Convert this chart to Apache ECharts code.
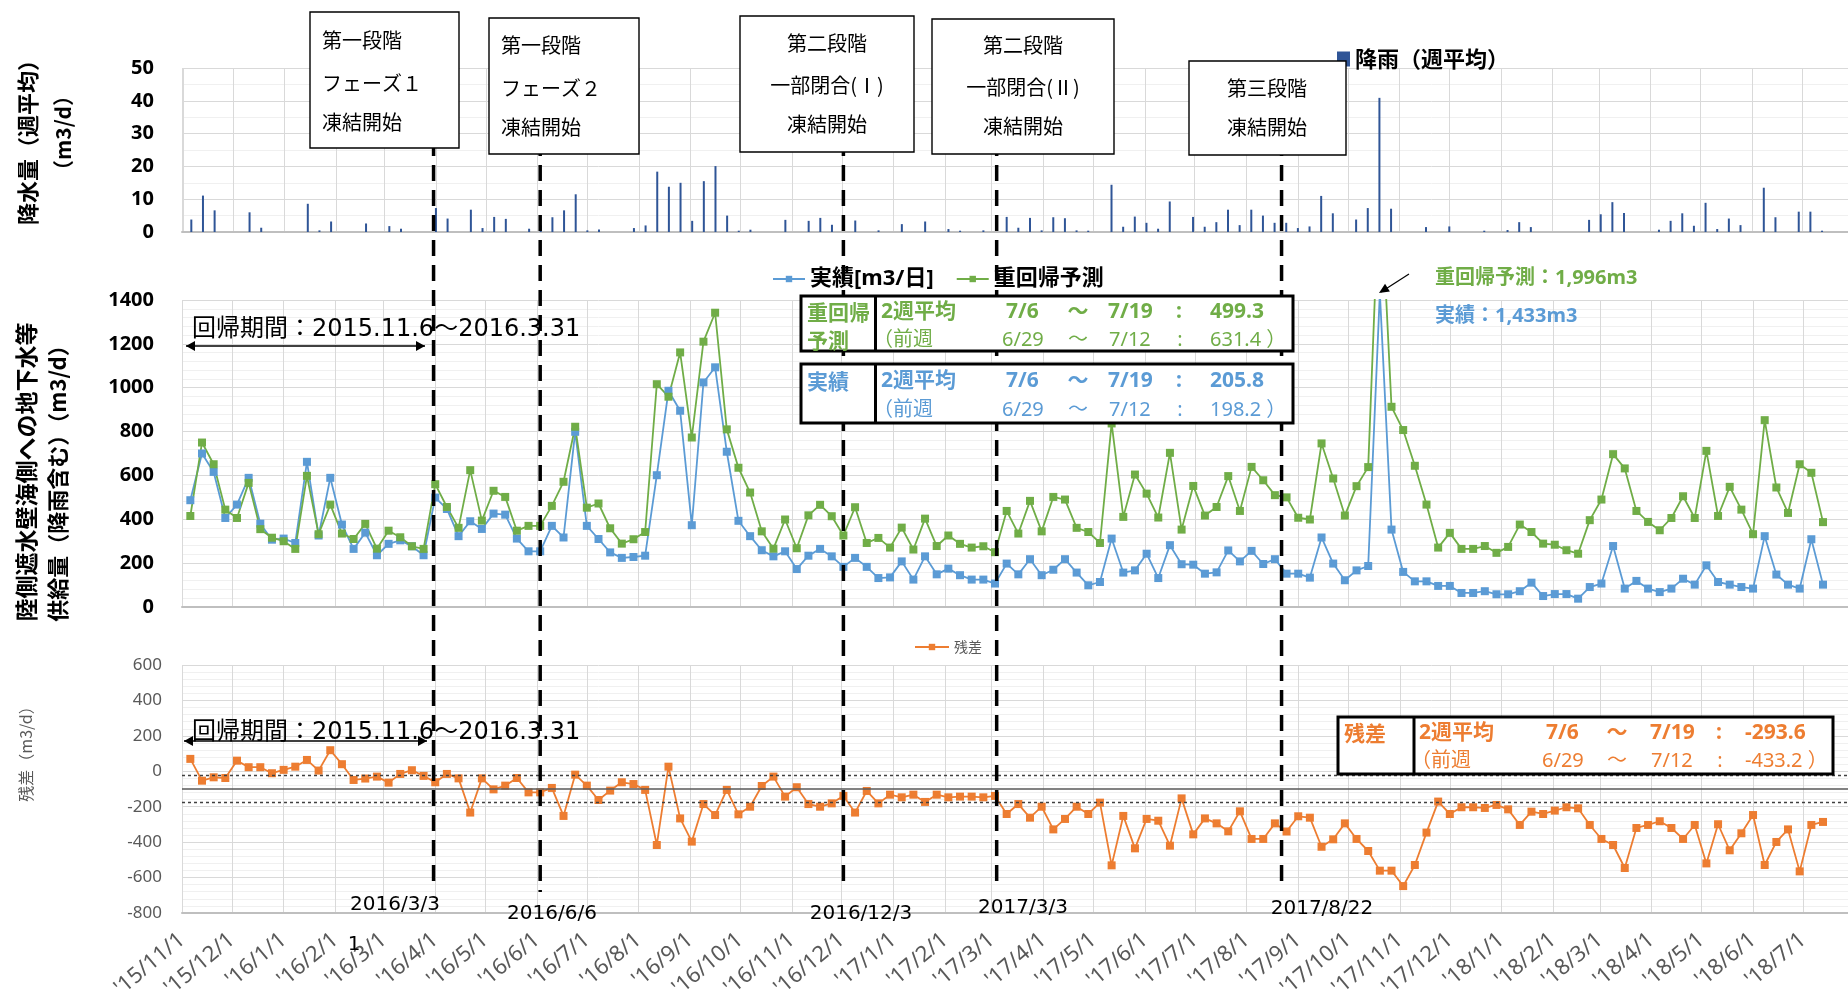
<!DOCTYPE html>
<html>
<head>
<meta charset="utf-8">
<script src="https://cdn.jsdelivr.net/npm/echarts@6/dist/echarts.min.js"></script>
<style>
html, body { margin: 0; padding: 0; background: #fff; }
#chart { width: 1848px; height: 1003px; }
</style>
</head>
<body>
<div id="chart"></div>
<script>
// weekly values, first week starts 2015-11-06
const rainfall = [
  3.8, 11.1, 6.6, 0, 0, 6.0, 1.3, 0, 0, 0,
  8.6, 0.5, 3.2, 0, 0, 2.6, 0, 1.8, 1.0, 0,
  0, 7.3, 4.1, 0, 6.8, 1.2, 4.6, 4.0, 0, 1.0,
  2.0, 4.5, 6.6, 11.5, 0.5, 0.8, 0, 0, 1.2, 2.0,
  18.4, 13.8, 15.0, 3.4, 15.5, 20.1, 5.0, 0.4, 0.7, 0,
  0, 3.7, 0, 3.4, 4.3, 2.2, 0, 3.5, 0, 0.5,
  0, 2.4, 0, 3.2, 0, 0.9, 0.4, 0, 0.5, 0,
  4.6, 1.3, 4.3, 0.5, 4.5, 4.2, 0.5, 0.4, 0, 14.4,
  1.6, 4.7, 2.8, 1.0, 9.3, 0, 4.6, 1.6, 3.0, 6.8,
  2.1, 6.8, 5.0, 2.8, 2.8, 1.2, 1.7, 11.0, 5.7, 0,
  3.8, 7.3, 40.9, 7.1, 0, 0, 1.5, 0, 1.7, 0,
  0, 0.4, 0, 0.6, 3.0, 1.5, 0, 0, 0, 0,
  3.7, 5.4, 9.1, 5.8, 0, 0, 0.7, 3.4, 5.7, 1.9,
  8.9, 0.9, 4.1, 2.1, 0, 13.5, 4.5, 0, 6.2, 6.2,
  0.4
];
const actual = [
  487, 700, 616, 406, 467, 589, 380, 307, 312, 292,
  662, 326, 589, 376, 265, 339, 236, 288, 304, 277,
  236, 499, 447, 323, 391, 356, 426, 421, 312, 254,
  254, 370, 317, 799, 370, 310, 249, 224, 228, 234,
  601, 986, 895, 373, 1024, 1093, 708, 393, 323, 259,
  231, 254, 173, 234, 265, 231, 183, 224, 183, 132,
  135, 208, 125, 231, 149, 175, 145, 125, 125, 107,
  198, 149, 218, 145, 170, 218, 157, 99, 114, 312,
  157, 167, 243, 132, 282, 195, 193, 152, 158, 258,
  208, 256, 196, 218, 152, 152, 134, 317, 198, 122,
  167, 187, 1433, 353, 160, 117, 117, 96, 96, 64,
  64, 72, 58, 58, 72, 111, 50, 59, 59, 38,
  91, 107, 278, 84, 119, 84, 68, 84, 129, 102,
  190, 114, 102, 91, 84, 323, 148, 102, 84, 309,
  102
];
const predicted = [
  415, 750, 651, 444, 406, 566, 355, 316, 300, 265,
  598, 332, 467, 335, 310, 379, 266, 348, 318, 277,
  265, 560, 456, 361, 624, 394, 530, 502, 348, 370,
  370, 461, 571, 822, 453, 472, 359, 289, 309, 342,
  1016, 959, 1161, 773, 1210, 1342, 810, 635, 522, 345,
  266, 399, 268, 418, 466, 414, 326, 455, 292, 315,
  271, 362, 262, 403, 278, 326, 288, 271, 277, 250,
  438, 335, 484, 345, 502, 490, 361, 342, 292, 837,
  411, 604, 517, 408, 703, 353, 552, 417, 456, 597,
  438, 639, 578, 510, 500, 407, 399, 746, 586, 417,
  551, 638, 1996, 913, 807, 644, 467, 271, 338, 265,
  265, 278, 247, 274, 376, 342, 289, 284, 259, 243,
  396, 490, 697, 632, 438, 388, 350, 406, 505, 406,
  712, 415, 548, 444, 332, 852, 545, 429, 651, 612,
  387
];
const residual = [
  70, -53, -34, -38, 60, 23, 23, -11, 8, 26,
  64, 4, 119, 40, -49, -41, -30, -64, -15, 6,
  -26, -62, -15, -40, -233, -40, -102, -81, -38, -119,
  -119, -94, -252, -19, -81, -162, -109, -62, -72, -105,
  -416, 26, -266, -397, -185, -247, -105, -243, -200, -83,
  -30, -143, -90, -185, -200, -181, -139, -233, -111, -181,
  -132, -147, -132, -173, -132, -147, -143, -143, -147, -139,
  -241, -185, -262, -200, -328, -269, -200, -241, -177, -531,
  -252, -435, -269, -279, -420, -153, -356, -266, -294, -339,
  -226, -382, -382, -294, -340, -254, -262, -426, -384, -294,
  -382, -450, -561, -561, -648, -529, -346, -171, -241, -203,
  -203, -207, -190, -215, -303, -228, -241, -222, -203, -209,
  -303, -382, -416, -546, -320, -303, -282, -320, -382, -303,
  -520, -299, -446, -350, -247, -529, -399, -328, -565, -303,
  -286
];
// residual reference lines
const residualRefs = [-100, -20, -175];

// freezing stage start markers
const stageDates = ['2016-03-31', '2016-06-03', '2016-12-02', '2017-03-04', '2017-08-22'];
const stageDateLabels = ['2016/3/3', '2016/6/6', '2016/12/3', '2017/3/3', '2017/8/22'];
const stageBoxTexts = [
  ['第一段階', 'フェーズ１', '凍結開始'],
  ['第一段階', 'フェーズ２', '凍結開始'],
  ['第二段階', '一部閉合(Ⅰ)', '凍結開始'],
  ['第二段階', '一部閉合(Ⅱ)', '凍結開始'],
  ['第三段階', '凍結開始']
];

const GREEN = '#70AD47', BLUE = '#5B9BD5', ORANGE = '#ED7D31', RAIN = '#2F5597';
const JP = '"Noto Sans CJK JP"';
const MIX = '"Noto Sans", "Noto Sans CJK JP"';
const WIDE = '"DejaVu Sans", "Noto Sans CJK JP"';

const day = s => { const p = s.split('-').map(Number); return new Date(p[0], p[1] - 1, p[2]).getTime(); };
const weekDates = rainfall.map((_, i) => new Date(2015, 10, 6 + 7 * i).getTime());
const pairs = arr => weekDates.map((t, i) => [t, arr[i]]);

const DAYMS = 86400000;
function xAxis(gridIndex, showLabel) {
  return {
    type: 'time', gridIndex,
    min: day('2015-11-01'), max: day('2018-07-28'),
    splitNumber: 33, minInterval: 28 * DAYMS, maxInterval: 31 * DAYMS,
    axisLine: { onZero: false, lineStyle: { color: '#BFBFBF', width: 2 } },
    axisTick: { show: false },
    splitLine: { show: true, lineStyle: { color: '#D9D9D9', width: 1 } },
    axisLabel: showLabel ? {
      rotate: 40, margin: 24, fontSize: 22, color: '#595959', fontFamily: MIX,
      formatter: v => {
        const d = new Date(v);
        return "'" + String(d.getFullYear()).slice(2) + '/' + (d.getMonth() + 1) + '/' + d.getDate();
      }
    } : { show: false }
  };
}
function yAxis(gridIndex, min, max, interval, minorSplit, bold) {
  return {
    type: 'value', gridIndex, min, max, interval,
    axisLine: { show: false }, axisTick: { show: false },
    axisLabel: Object.assign({ formatter: v => String(v) }, bold
      ? { fontSize: 20, fontWeight: 'bold', color: '#000', margin: 28, fontFamily: '"Noto Sans"' }
      : { fontSize: 17, color: '#595959', margin: 20, fontFamily: '"Noto Sans"' }),
    splitLine: { lineStyle: { color: '#D9D9D9', width: 1 } },
    minorTick: { show: false, splitNumber: minorSplit },
    minorSplitLine: { show: true, lineStyle: { color: '#F0F0F0', width: 1 } }
  };
}

const chart = echarts.init(document.getElementById('chart'));
chart.setOption({
  animation: false,
  textStyle: { fontFamily: MIX },
  grid: [
    { left: 182, right: 0, top: 68, height: 164 },
    { left: 182, right: 0, top: 300, height: 307 },
    { left: 182, right: 0, top: 665, height: 248 }
  ],
  xAxis: [xAxis(0, false), xAxis(1, false), xAxis(2, true)],
  yAxis: [
    yAxis(0, 0, 50, 10, 2, true),
    yAxis(1, 0, 1400, 200, 5, true),
    yAxis(2, -800, 600, 200, 5, false)
  ],
  legend: [
    { data: ['降雨（週平均）'], left: 1337, top: 48, padding: 0, icon: 'rect', itemWidth: 13, itemHeight: 15, itemGap: 4,
      textStyle: { fontSize: 22, fontWeight: 'bold', color: '#000', fontFamily: JP } },
    { data: ['実績[m3/日]', '重回帰予測'], left: 772, top: 268, padding: 0, itemWidth: 32, itemHeight: 8, itemGap: 22,
      textStyle: { fontSize: 22, fontWeight: 'bold', color: '#000', fontFamily: MIX } },
    { data: ['残差'], left: 914, top: 640, padding: 0, itemWidth: 34, itemHeight: 8,
      textStyle: { fontSize: 14, color: '#595959', fontFamily: JP } }
  ],
  series: [
    { name: '降雨（週平均）', type: 'bar', xAxisIndex: 0, yAxisIndex: 0, barWidth: 2,
      itemStyle: { color: RAIN }, data: pairs(rainfall) },
    { name: '実績[m3/日]', type: 'line', xAxisIndex: 1, yAxisIndex: 1, symbol: 'rect', symbolSize: 8,
      itemStyle: { color: BLUE }, lineStyle: { color: BLUE, width: 1.8 }, data: pairs(actual) },
    { name: '重回帰予測', type: 'line', xAxisIndex: 1, yAxisIndex: 1, symbol: 'rect', symbolSize: 8,
      itemStyle: { color: GREEN }, lineStyle: { color: GREEN, width: 1.8 }, data: pairs(predicted) },
    { name: '残差', type: 'line', xAxisIndex: 2, yAxisIndex: 2, symbol: 'rect', symbolSize: 8,
      itemStyle: { color: ORANGE }, lineStyle: { color: ORANGE, width: 1.8 }, data: pairs(residual),
      markLine: {
        silent: true, symbol: ['none', 'none'], label: { show: false },
        data: [
          { yAxis: residualRefs[0], lineStyle: { type: 'solid', color: '#595959', width: 1.5 } },
          { yAxis: residualRefs[1], lineStyle: { type: [3, 3], color: '#404040', width: 1.4 } },
          { yAxis: residualRefs[2], lineStyle: { type: [3, 3], color: '#404040', width: 1.4 } }
        ]
      } }
  ]
});

// ---- annotations ----
function txt(x, y, text, font, fill, align, z) {
  return { type: 'text', x, y, z: z || 31, style: { text, font, fill: fill || '#000', align: align || 'left', verticalAlign: 'middle' } };
}
function vtxt(x, y, text, font, fill) {
  return { type: 'text', x, y, rotation: Math.PI / 2, z: 31, style: { text, font, fill: fill || '#000', align: 'center', verticalAlign: 'middle' } };
}
function box(x, y, w, h, lw) {
  return { type: 'rect', z: 30, shape: { x, y, width: w, height: h }, style: { fill: '#fff', stroke: '#000', lineWidth: lw } };
}
function seg(x1, y1, x2, y2, lw, z) {
  return { type: 'line', z: z || 31, shape: { x1, y1, x2, y2 }, style: { stroke: '#000', lineWidth: lw } };
}
function head(x1, y1, x2, y2, len, half) {
  const dx = x2 - x1, dy = y2 - y1, L = Math.hypot(dx, dy), ux = dx / L, uy = dy / L;
  const bx = x2 - ux * len, by = y2 - uy * len;
  return { type: 'polygon', z: 16, shape: { points: [[x2, y2], [bx - uy * half, by + ux * half], [bx + uy * half, by - ux * half]] }, style: { fill: '#000' } };
}
function doubleArrow(x1, x2, y) {
  return [seg(x1, y, x2, y, 1.3, 16), head(x2, y, x1, y, 9, 5), head(x1, y, x2, y, 9, 5)];
}

const els = [];

// stage boxes at the top
const stageBoxes = [
  { x: 310, y: 12, w: 149, h: 136, tx: 322, align: 'left', ys: [40, 83, 122] },
  { x: 489, y: 18, w: 150, h: 136, tx: 501, align: 'left', ys: [45, 88, 127] },
  { x: 740, y: 16, w: 174, h: 136, tx: 827, align: 'center', ys: [43, 85, 124] },
  { x: 932, y: 19, w: 182, h: 135, tx: 1023, align: 'center', ys: [45, 87, 126] },
  { x: 1189, y: 61, w: 157, h: 94, tx: 1267, align: 'center', ys: [88, 127] }
];
stageBoxes.forEach((b, i) => {
  els.push(box(b.x, b.y, b.w, b.h, 1.4));
  stageBoxTexts[i].forEach((t, j) => els.push(txt(b.tx, b.ys[j], t, '20px ' + JP, '#000', b.align)));
});

// dashed stage lines through all panels
const lineBottoms = [888, 892, 890, 887, 887];
stageDates.forEach((d, i) => {
  const x = chart.convertToPixel({ xAxisIndex: 2 }, day(d));
  els.push({ type: 'line', z: 20, shape: { x1: x, y1: 140, x2: x, y2: lineBottoms[i] },
    style: { stroke: '#000', lineWidth: 3.5, lineDash: [16, 9] } });
});
const stageLabelPos = [[395, 905], [552, 914], [861, 914], [1023, 908], [1322, 909]];
stageDateLabels.forEach((t, i) => els.push(txt(stageLabelPos[i][0], stageLabelPos[i][1], t, '20px ' + WIDE, '#000', 'center')));
els.push(txt(354, 945, '1', '20px ' + WIDE, '#000', 'center'));

// regression period captions
els.push(txt(192, 330, '回帰期間：2015.11.6～2016.3.31', '24px ' + WIDE, '#000', 'left', 15));
els.push(...doubleArrow(186, 425, 346));
els.push(txt(192, 733, '回帰期間：2015.11.6～2016.3.31', '24px ' + WIDE, '#000', 'left', 15));
els.push(...doubleArrow(184, 427, 741));

// peak callout
els.push(seg(1409, 274, 1381, 292, 1.2, 16), head(1409, 274, 1379, 293, 10, 4.5));
els.push(txt(1435, 278, '重回帰予測：1,996m3', 'bold 20px ' + MIX, GREEN));
els.push(txt(1435, 316, '実績：1,433m3', 'bold 20px ' + MIX, BLUE));

// two-week summary boxes
function summary(x, y, w, h, divX, color, label, c, y1, y2, row1, row2) {
  els.push(box(x, y, w, h, 3), seg(divX, y, divX, y + h, 3));
  label.forEach((t, i) => els.push(txt(x + 6, i ? y2 : y1, t, 'bold 21px ' + JP, color)));
  const f1 = 'bold 21px ' + MIX, f2 = '20px ' + MIX;
  els.push(txt(c[0], y1, '2週平均', f1, color), txt(c[1], y1, row1[0], f1, color), txt(c[2], y1, '～', f1, color, 'center'),
    txt(c[3], y1, row1[1], f1, color), txt(c[4], y1, ':', f1, color, 'center'), txt(c[5], y1, row1[2], f1, color));
  els.push(txt(c[0] - 8, y2, '（前週', f2, color), txt(c[1] - 4, y2, row2[0], f2, color), txt(c[2], y2, '～', f2, color, 'center'),
    txt(c[3] + 1, y2, row2[1], f2, color), txt(c[4] + 1, y2, ':', f2, color, 'center'), txt(c[5], y2, row2[2], f2, color));
}
const cols = [881, 1006, 1078, 1108, 1179, 1210];
summary(801, 296, 492, 55, 875.5, GREEN, ['重回帰', '予測'], cols, 312, 340,
  ['7/6', '7/19', '499.3'], ['6/29', '7/12', '631.4 ）']);
summary(801, 364, 492, 59, 875.5, BLUE, ['実績'], cols, 381, 410,
  ['7/6', '7/19', '205.8'], ['6/29', '7/12', '198.2 ）']);
summary(1338, 717, 495, 57, 1414, ORANGE, ['残差'], [1419, 1546, 1617, 1650, 1719, 1745], 733, 761,
  ['7/6', '7/19', '-293.6'], ['6/29', '7/12', '-433.2 ）']);

// axis titles
els.push(vtxt(28, 137, '降水量（週平均）', 'bold 22px ' + JP));
els.push(vtxt(63, 133, '（m3/d）', 'bold 21px ' + JP));
els.push(vtxt(26, 472, '陸側遮水壁海側への地下水等', 'bold 23px ' + JP));
els.push(vtxt(58, 478, '供給量（降雨含む）（m3/d）', 'bold 22px ' + JP));
els.push(vtxt(26, 750, '残差（m3/d）', '16px ' + JP, '#595959'));

chart.setOption({ graphic: { elements: els } });
</script>
</body>
</html>
